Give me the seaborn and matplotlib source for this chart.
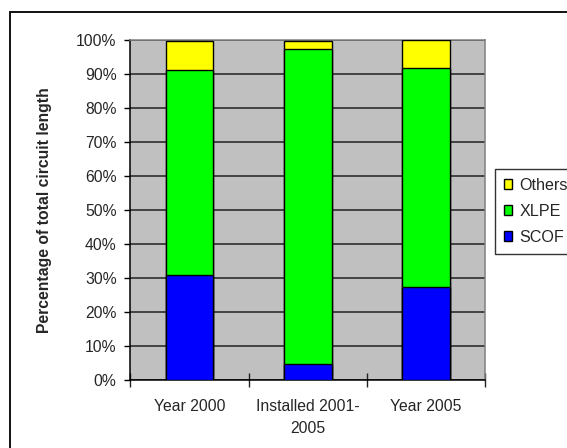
import matplotlib
matplotlib.use("Agg")
import matplotlib.pyplot as plt
from matplotlib.patches import Rectangle
from matplotlib.ticker import FixedLocator, PercentFormatter
import pandas as pd
import seaborn as sns

# Share of total circuit length by cable type (%)
categories = ["Year 2000", "Installed 2001-\n2005", "Year 2005"]
scof = [30.9, 4.6, 27.4]
xlpe = [60.3, 92.8, 64.6]
others = [8.8, 2.6, 8.0]
series_names = ["SCOF", "XLPE", "Others"]
series_colors = {"SCOF": "#0000FF", "XLPE": "#00FF00", "Others": "#FFFF00"}
y_ticks = list(range(0, 101, 10))

sns.set_style("white")
plt.rcParams["font.family"] = ["Liberation Sans", "DejaVu Sans"]

# cumulative tops for stacking
df = pd.DataFrame({"category": categories, "SCOF": scof, "XLPE": xlpe, "Others": others})
df["top_SCOF"] = df["SCOF"]
df["top_XLPE"] = df["SCOF"] + df["XLPE"]
df["top_Others"] = df["SCOF"] + df["XLPE"] + df["Others"]

fig = plt.figure(figsize=(5.67, 4.48), dpi=100)
ax = fig.add_axes([130.4 / 567, 1 - 380 / 448, 354.9 / 567, 339.5 / 448])
ax.set_facecolor("#C0C0C0")

# outer chart frame
fig.patches.append(Rectangle((9.8 / 567, -0.5), 2.0, 0.974 + 0.5,
                             transform=fig.transFigure, fill=False,
                             edgecolor="#111111", linewidth=1.4, zorder=0))

for name in reversed(series_names):
    sns.barplot(data=df, x="category", y=f"top_{name}", color=series_colors[name],
                saturation=1, width=0.4, edgecolor="black", linewidth=1.0,
                label=name, legend=False, ax=ax, zorder=3)
if ax.get_legend() is not None:
    ax.get_legend().remove()

ax.set_xlim(-0.5, 2.5)
ax.set_ylim(0, 100)
ax.yaxis.set_major_locator(FixedLocator(y_ticks))
ax.yaxis.set_major_formatter(PercentFormatter(decimals=0))
ax.grid(axis="y", color="#222222", linewidth=1.1)
ax.set_axisbelow(True)

ax.set_xlabel("")
ax.set_ylabel("Percentage of total circuit length", fontsize=11.3, fontweight="bold")
ax.yaxis.set_label_coords(-0.221, 0.5)

ax.tick_params(axis="y", direction="out", length=4, width=1, color="black",
               labelsize=11.3, pad=6.0, left=True)
ax.tick_params(axis="x", which="major", length=0, labelsize=11.3, pad=14)
ax.xaxis.set_minor_locator(FixedLocator([-0.5, 0.5, 1.5, 2.5]))
ax.tick_params(axis="x", which="minor", direction="inout", length=10, width=1,
               color="#222222", bottom=True)
for lbl in ax.get_xticklabels():
    lbl.set_linespacing(1.55)

for side in ("left", "bottom"):
    ax.spines[side].set_color("black")
    ax.spines[side].set_linewidth(1.1)
for side in ("top", "right"):
    ax.spines[side].set_color("#808080")
    ax.spines[side].set_linewidth(1.1)

handles, labels = ax.get_legend_handles_labels()
lookup = dict(zip(labels, handles))
order = ["Others", "XLPE", "SCOF"]
leg = fig.legend([lookup[n] for n in order], order,
                 loc="upper left", bbox_to_anchor=(495 / 567, 1 - 169 / 448),
                 fontsize=11.6, frameon=True, fancybox=False, shadow=False,
                 handlelength=0.52, handleheight=0.52, handletextpad=0.45,
                 labelspacing=0.68, borderpad=0.55, borderaxespad=0)
leg.get_frame().set_edgecolor("black")
leg.get_frame().set_linewidth(1.0)

fig.savefig("out.png", dpi=100)
